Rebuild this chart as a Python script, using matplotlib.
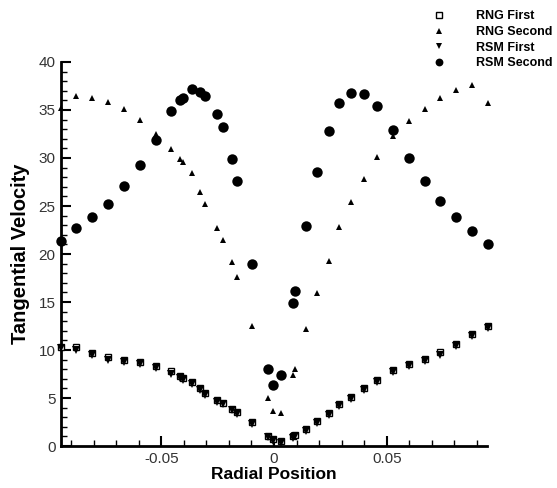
import matplotlib
matplotlib.use("Agg")
import matplotlib.pyplot as plt
from matplotlib.ticker import MultipleLocator, FixedLocator

plt.rcParams['font.family'] = ['Liberation Sans', 'DejaVu Sans']
plt.rcParams['axes.unicode_minus'] = False

# radial positions (shared by all four series)
radial = [-0.0944, -0.0877, -0.0806, -0.0735, -0.0667, -0.0596, -0.0524, -0.0458,
          -0.0418, -0.0405, -0.0366, -0.0329, -0.0304, -0.0253, -0.0228, -0.0187,
          -0.0163, -0.0098, -0.0027, -0.0006, 0.0033, 0.0086, 0.0095, 0.0140,
          0.0190, 0.0242, 0.0290, 0.0341, 0.0400, 0.0457, 0.0530, 0.0601,
          0.0670, 0.0738, 0.0809, 0.0880, 0.0948]

rng_first = [10.35, 10.3, 9.7, 9.3, 8.96, 8.7, 8.3, 7.8, 7.3, 7.1, 6.67, 6.05, 5.55,
             4.8, 4.5, 3.85, 3.5, 2.5, 1.04, 0.73, 0.52, 1.0, 1.15, 1.77, 2.6, 3.47,
             4.37, 5.14, 6.04, 6.9, 7.9, 8.5, 9.06, 9.75, 10.65, 11.7, 12.5]

rng_second = [35.2, 36.5, 36.2, 35.8, 35.1, 34.0, 32.5, 30.9, 29.9, 29.6, 28.4, 26.5,
              25.2, 22.7, 21.5, 19.2, 17.6, 12.5, 5.0, 3.6, 3.4, 7.4, 8.0, 12.2, 15.9,
              19.3, 22.8, 25.4, 27.8, 30.1, 32.3, 33.9, 35.1, 36.3, 37.1, 37.6, 35.7]

rsm_first = [10.2, 10.0, 9.5, 9.0, 8.7, 8.5, 8.1, 7.5, 7.05, 6.9, 6.45, 5.8, 5.35,
             4.6, 4.35, 3.7, 3.35, 2.3, 0.9, 0.55, 0.3, 0.85, 1.0, 1.56, 2.4, 3.26,
             4.17, 4.9, 5.8, 6.7, 7.7, 8.3, 8.85, 9.5, 10.45, 11.5, 12.3]

rsm_second = [21.4, 22.7, 23.85, 25.2, 27.1, 29.3, 31.9, 34.9, 36.0, 36.3, 37.2, 36.9,
              36.5, 34.6, 33.2, 29.9, 27.6, 19.0, 8.0, 6.4, 7.4, 14.9, 16.1, 22.9,
              28.5, 32.8, 35.7, 36.8, 36.7, 35.4, 32.9, 30.0, 27.6, 25.5, 23.85,
              22.4, 21.0]

fig = plt.figure(figsize=(5.57, 4.88), dpi=100)
ax = fig.add_axes([61/557, 42/488, 426/557, 384/488])

h1, = ax.plot(radial, rng_first, 's', ms=5, mfc='white', mec='black', mew=1,
              label='RNG First', clip_on=False, zorder=3)
h2, = ax.plot(radial, rng_second, '^', ms=5, color='black', mew=0,
              label='RNG Second', clip_on=False, zorder=3)
h3, = ax.plot(radial, rsm_first, 'v', ms=5.5, color='black', mew=0,
              label='RSM First', clip_on=False, zorder=4)
h4, = ax.plot(radial, rsm_second, 'o', ms=7.5, color='black', mew=0,
              label='RSM Second', clip_on=False, zorder=3)

ax.set_xlim(-0.0945, 0.0945)
ax.set_ylim(0, 40)

ax.spines['top'].set_visible(False)
ax.spines['right'].set_visible(False)
ax.spines['left'].set_linewidth(2)
ax.spines['bottom'].set_linewidth(2)

ax.xaxis.set_major_locator(FixedLocator([-0.05, 0, 0.05]))
ax.xaxis.set_minor_locator(MultipleLocator(0.01))
ax.yaxis.set_major_locator(MultipleLocator(5))
ax.yaxis.set_minor_locator(MultipleLocator(1))
ax.set_xticklabels(['-0.05', '0', '0.05'])

ax.tick_params(which='major', direction='in', length=7, width=1.5, labelsize=11,
               pad=4, labelcolor='#333333')
ax.tick_params(which='minor', direction='in', length=4, width=1)

ax.set_xlabel('Radial Position', fontsize=12.5, fontweight='bold', labelpad=1)
ax.set_ylabel('Tangential Velocity', fontsize=14.5, fontweight='bold', labelpad=6)

fig.legend(handles=[h1, h2, h3, h4], loc='upper left',
           bbox_to_anchor=(426/557, 1 - 4/488), frameon=False,
           prop={'weight': 'bold', 'size': 9}, handletextpad=2.5,
           labelspacing=0.3, handlelength=1.0, borderpad=0, markerscale=0.75)

fig.savefig('out.png', dpi=100)
